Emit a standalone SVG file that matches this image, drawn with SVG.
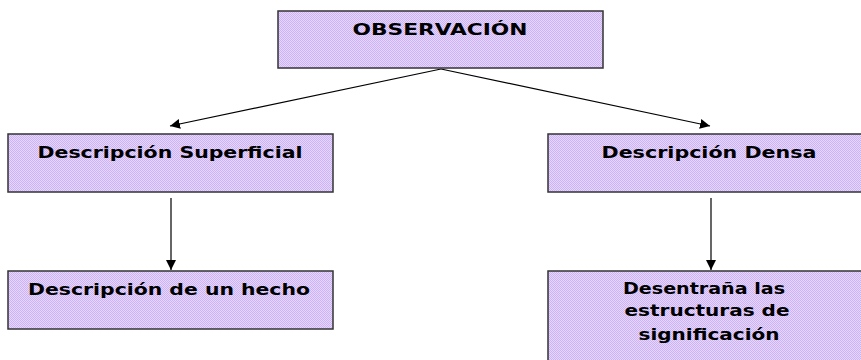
<svg xmlns="http://www.w3.org/2000/svg" width="861" height="360" viewBox="0 0 861 360">
<defs>
<pattern id="chk" width="2" height="2" patternUnits="userSpaceOnUse">
<rect width="2" height="2" fill="#e6d8fd"/>
<rect width="1" height="1" fill="#cdb3f6"/>
<rect x="1" y="1" width="1" height="1" fill="#cdb3f6"/>
</pattern>
<marker id="ah" viewBox="0 0 10 10" refX="10" refY="5" markerWidth="10" markerHeight="10" markerUnits="userSpaceOnUse" orient="auto">
<path d="M0,0 L10,5 L0,10 z" fill="#000"/>
</marker>
<style>
.box{fill:url(#chk);stroke:#333;stroke-width:1.5}
.t{font-family:"DejaVu Sans","Liberation Sans",sans-serif;font-weight:bold;font-size:16px;fill:#000;text-anchor:middle}
.c{stroke:#000;stroke-width:1.2;fill:none;marker-end:url(#ah)}
</style>
</defs>
<rect width="861" height="360" fill="#fff"/>
<g id="connectors">
<line class="c" x1="441" y1="69" x2="170" y2="126"/>
<line class="c" x1="441" y1="69" x2="710" y2="126"/>
<line class="c" x1="171" y1="198" x2="171" y2="270"/>
<line class="c" x1="711" y1="198" x2="711" y2="270"/>
</g>
<g id="observacion">
<rect class="box" x="278" y="11" width="325" height="57"/>
<text class="t" x="440" y="35" textLength="175" lengthAdjust="spacingAndGlyphs">OBSERVACIÓN</text>
</g>
<g id="superficial">
<rect class="box" x="8" y="134" width="325" height="58"/>
<text class="t" x="170" y="158" textLength="265" lengthAdjust="spacingAndGlyphs">Descripción Superficial</text>
</g>
<g id="densa">
<rect class="box" x="548" y="134" width="325" height="58"/>
<text class="t" x="709" y="158" textLength="215" lengthAdjust="spacingAndGlyphs">Descripción Densa</text>
</g>
<g id="hecho">
<rect class="box" x="8" y="271" width="325" height="58"/>
<text class="t" x="169" y="295" textLength="282" lengthAdjust="spacingAndGlyphs">Descripción de un hecho</text>
</g>
<g id="desentrana">
<rect class="box" x="548" y="271" width="325" height="100"/>
<text class="t" x="704" y="294" textLength="162" lengthAdjust="spacingAndGlyphs">Desentraña las</text>
<text class="t" x="707" y="316" textLength="165" lengthAdjust="spacingAndGlyphs">estructuras de</text>
<text class="t" x="709" y="340" textLength="141" lengthAdjust="spacingAndGlyphs">significación</text>
</g>
</svg>
